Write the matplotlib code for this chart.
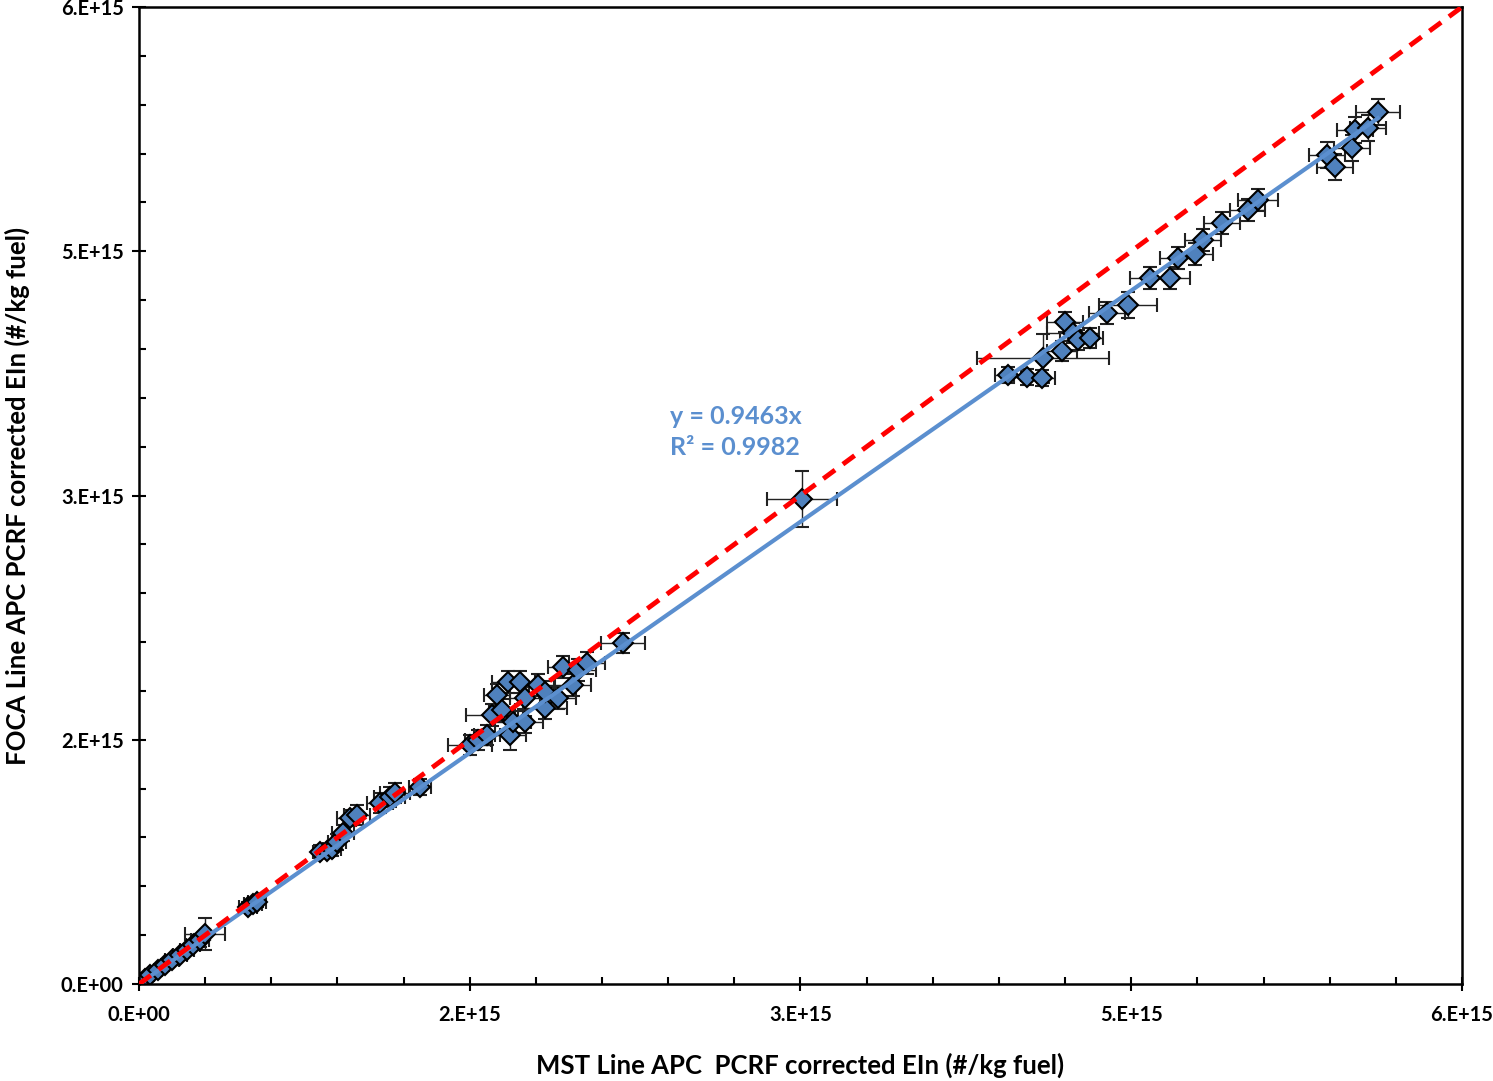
import math
import numpy as np
import matplotlib
matplotlib.use("Agg")
import matplotlib.pyplot as plt
from matplotlib.ticker import MultipleLocator, FuncFormatter

plt.rcParams['font.family'] = ['Lato', 'DejaVu Sans']

# values in units of 1e15 #/kg fuel
mst = [0.027, 0.050, 0.086, 0.118, 0.150, 0.186, 0.218, 0.245, 0.277, 0.299,
       0.494, 0.517, 0.535,
       0.821, 0.853, 0.875, 0.898, 0.925, 0.957, 0.989, 1.093, 1.138, 1.161, 1.274,
       1.501, 1.537, 1.578, 1.601, 1.624, 1.646, 1.673, 1.683, 1.696, 1.728, 1.751,
       1.751, 1.810, 1.841, 1.841, 1.900, 1.923, 1.968, 1.991, 2.032, 2.195,
       3.007,
       3.941, 4.027, 4.095, 4.100, 4.186, 4.200, 4.236, 4.259, 4.313, 4.390, 4.485,
       4.585, 4.676, 4.712, 4.789, 4.825, 4.912, 5.029, 5.075,
       5.388, 5.424, 5.501, 5.515, 5.574, 5.619]
foca = [0.031, 0.055, 0.086, 0.117, 0.147, 0.178, 0.209, 0.240, 0.270, 0.307,
        0.473, 0.491, 0.504,
        0.811, 0.817, 0.829, 0.872, 0.927, 1.019, 1.038, 1.112, 1.148, 1.173, 1.210,
        1.468, 1.498, 1.529, 1.652, 1.775, 1.683, 1.855, 1.529, 1.609, 1.855, 1.609,
        1.756, 1.836, 1.695, 1.793, 1.756, 1.947, 1.836, 1.928, 1.971, 2.094,
        2.979,
        3.740, 3.728, 3.722, 3.844, 3.888, 4.066, 3.998, 3.955, 3.967, 4.121, 4.170,
        4.336, 4.336, 4.459, 4.483, 4.569, 4.674, 4.753, 4.815,
        5.091, 5.018, 5.134, 5.245, 5.257, 5.355]
mst_err = [0.02, 0.02, 0.02, 0.02, 0.03, 0.03, 0.03, 0.03, 0.04, 0.09,
           0.04, 0.04, 0.04,
           0.03, 0.03, 0.04, 0.04, 0.05, 0.06, 0.06, 0.06, 0.07, 0.07, 0.05,
           0.10, 0.06, 0.06, 0.12, 0.06, 0.06, 0.07, 0.07, 0.08, 0.07, 0.08,
           0.07, 0.07, 0.10, 0.07, 0.08, 0.07, 0.08, 0.08, 0.08, 0.10,
           0.16,
           0.06, 0.06, 0.06, 0.30, 0.07, 0.08, 0.12, 0.08, 0.06, 0.08, 0.13,
           0.09, 0.09, 0.08, 0.08, 0.08, 0.08, 0.08, 0.09,
           0.08, 0.08, 0.08, 0.08, 0.08, 0.10]
foca_err = [0.02, 0.02, 0.02, 0.02, 0.03, 0.03, 0.03, 0.03, 0.04, 0.10,
            0.03, 0.03, 0.03,
            0.04, 0.04, 0.04, 0.05, 0.05, 0.05, 0.06, 0.06, 0.06, 0.06, 0.05,
            0.06, 0.06, 0.06, 0.07, 0.07, 0.07, 0.07, 0.09, 0.07, 0.07, 0.07,
            0.07, 0.07, 0.07, 0.07, 0.07, 0.07, 0.07, 0.07, 0.07, 0.06,
            0.17,
            0.05, 0.05, 0.05, 0.15, 0.06, 0.06, 0.06, 0.06, 0.06, 0.07, 0.08,
            0.07, 0.07, 0.07, 0.07, 0.07, 0.07, 0.07, 0.07,
            0.08, 0.08, 0.08, 0.08, 0.08, 0.08]
slope = 0.9463
r2 = 0.9982

scale = 1e15
x = np.array(mst) * scale
y = np.array(foca) * scale
xe = np.array(mst_err) * scale
ye = np.array(foca_err) * scale


def excel_fmt(v, pos=None):
    if v <= 0:
        return "0.E+00"
    e = int(math.floor(math.log10(v)))
    m = int(v / 10 ** e + 0.5)
    if m >= 10:
        m //= 10
        e += 1
    return f"{m}.E+{e:02d}"


fig = plt.figure(figsize=(14.93, 10.81), dpi=100)
ax = fig.add_axes([0.0931, 0.0897, 0.8861, 0.9038])

blue = '#4F81BD'
ax.errorbar(x, y, xerr=xe, yerr=ye, fmt='D', ms=10, mfc=blue, mec='black',
            mew=1.5, ecolor='#222222', elinewidth=1.0, capsize=5, capthick=1.0,
            zorder=2)

xx = np.array([0, x.max()])
ax.plot(xx, slope * xx, color='#5B8FCF', lw=3, zorder=3)
ax.plot([0, 6e15], [0, 6e15], color='#FF0000', lw=3.5, ls=(0, (3, 2)), zorder=4)

ax.text(2.41e15, 3.39e15, f"y = {slope}x\nR\u00b2 = {r2}", color='#5B8FCF',
        fontsize=18, fontweight='bold', linespacing=1.4, va='center', ha='left')

ax.set_xlim(0, 6e15)
ax.set_ylim(0, 6e15)
ax.xaxis.set_major_locator(MultipleLocator(1.5e15))
ax.yaxis.set_major_locator(MultipleLocator(1.5e15))
ax.xaxis.set_minor_locator(MultipleLocator(0.3e15))
ax.yaxis.set_minor_locator(MultipleLocator(0.3e15))
ax.xaxis.set_major_formatter(FuncFormatter(excel_fmt))
ax.yaxis.set_major_formatter(FuncFormatter(excel_fmt))
ax.tick_params(which='major', direction='inout', length=10, width=1.5,
               labelsize=14.5, pad=6)
ax.tick_params(which='minor', direction='in', length=5, width=1.5)
for lab in ax.get_xticklabels() + ax.get_yticklabels():
    lab.set_fontweight('bold')
ax.tick_params(axis='x', pad=10)
for s in ax.spines.values():
    s.set_linewidth(1.8)

ax.set_xlabel("MST Line APC  PCRF corrected EIn (#/kg fuel)", fontsize=18.5,
              fontweight='bold', labelpad=20)
ax.set_ylabel("FOCA Line APC PCRF corrected EIn (#/kg fuel)", fontsize=18.5,
              fontweight='bold', labelpad=22)

fig.savefig("out.png", dpi=100)
